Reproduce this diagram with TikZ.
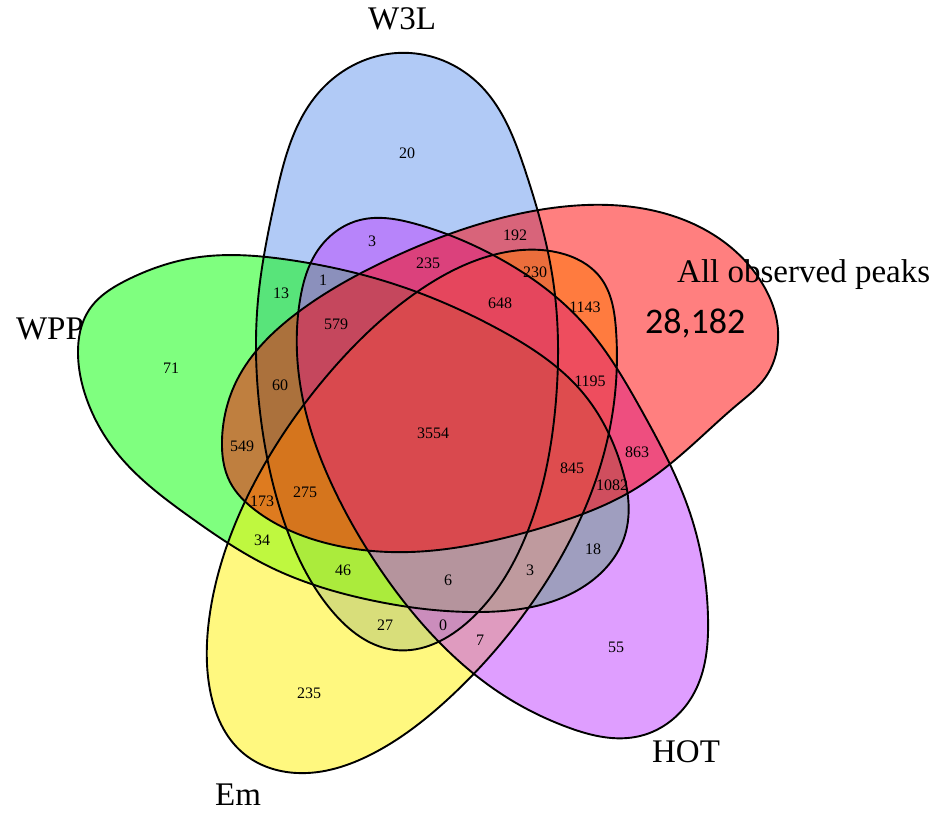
\documentclass[tikz,border=0pt]{standalone}
\usepackage{fontspec}
\setmainfont{Liberation Serif}
\newfontfamily\zahlfont{Carlito}
\usepackage{xcolor}
\usepackage{tikz}
\usetikzlibrary{hobby}
\definecolor{wblau}{RGB}{100,149,237}
\definecolor{hotlila}{RGB}{191,62,255}
\tikzset{
    menge/.style = {fill opacity=0.5, use Hobby shortcut, closed=true},
    rand/.style  = {draw=black, line width=1.9pt, use Hobby shortcut, closed=true},
    zahl/.style  = {inner sep=0pt, font=\fontsize{16}{19}\selectfont},
    titel/.style = {inner sep=0pt, font=\fontsize{33}{40}\selectfont}
}
\newcommand\umrissW{(410,53) .. (480,85) .. (525,170) .. (553,280) .. (556,400) .. (527,533) .. (470,620) .. (395,650) .. (332,611) .. (286,527) .. (261,420) .. (258,300) .. (275,200) .. (321,90)}
\newcommand\umrissP{(78,353) .. (89,310) .. (127,280) .. (193,258) .. (290,260) .. (400,286) .. (500,330) .. (583,393) .. (621,465) .. (625,535) .. (583,587) .. (480,612) .. (370,600) .. (270,567) .. (190,517) .. (117,453) .. (87,400)}
\newcommand\umrissE{(560,253) .. (600,277) .. (616,330) .. (613,410) .. (583,513) .. (527,610) .. (447,700) .. (372,754) .. (297,773) .. (243,753) .. (210,690) .. (209,620) .. (230,537) .. (267,460) .. (331,371) .. (417,292) .. (493,255)}
\newcommand\umrissH{(300,300) .. (318,250) .. (360,220) .. (416,224) .. (493,255) .. (583,323) .. (643,413) .. (690,513) .. (708,617) .. (693,695) .. (640,736) .. (567,727) .. (503,695) .. (440,643) .. (380,569) .. (333,487) .. (303,400)}
\newcommand\umrissA{(222,440) .. (237,380) .. (297,313) .. (381,263) .. (470,227) .. (560,207) .. (640,208) .. (717,237) .. (762,283) .. (778,330) .. (765,378) .. (738,404) .. (690,447) .. (630,492) .. (560,522) .. (500,539) .. (410,552) .. (322,542) .. (255,510) .. (230,482)}

\begin{document}
\begin{tikzpicture}[x=1pt, y=-1pt]
    \useasboundingbox (0,0) rectangle (931,814);

    % --- Flaechen ---
    \fill[menge, wblau]   \umrissW;
    \fill[menge, green]   \umrissP;
    \fill[menge, yellow]  \umrissE;
    \fill[menge, hotlila] \umrissH;
    \fill[menge, red]     \umrissA;

    % --- Raender ---
    \draw[rand] \umrissW;
    \draw[rand] \umrissP;
    \draw[rand] \umrissE;
    \draw[rand] \umrissH;
    \draw[rand] \umrissA;

    % --- Mengennamen ---
    \node[titel] (tw) at (402,19) {W3L};
    \node[titel] (tp) at (50,329) {WPP};
    \node[titel] (th) at (686,752) {HOT};
    \node[titel] (te) at (238,795) {Em};
    \node[titel, anchor=base west] (ta) at (677,282) {All observed peaks};
    \node[inner sep=0pt, anchor=base west, font=\zahlfont\fontsize{36}{43}\selectfont] (tz) at (645,333) {28,182};

    % --- Anzahlen ---
    \node[zahl] (n1)  at (407,153) {20};
    \node[zahl] (n2)  at (372,241) {3};
    \node[zahl] (n3)  at (515,235) {192};
    \node[zahl] (n4)  at (428,263) {235};
    \node[zahl] (n5)  at (535,272) {230};
    \node[zahl] (n6)  at (500,303) {648};
    \node[zahl] (n7)  at (585,307) {1143};
    \node[zahl] (n8)  at (281,293) {13};
    \node[zahl] (n9)  at (323,280) {1};
    \node[zahl] (n10) at (336,324) {579};
    \node[zahl] (n11) at (171,368) {71};
    \node[zahl] (n12) at (280,385) {60};
    \node[zahl] (n13) at (590,381) {1195};
    \node[zahl] (n14) at (242,446) {549};
    \node[zahl] (n15) at (433,433) {3554};
    \node[zahl] (n16) at (637,452) {863};
    \node[zahl] (n17) at (572,468) {845};
    \node[zahl] (n18) at (612,485) {1082};
    \node[zahl] (n19) at (262,501) {173};
    \node[zahl] (n20) at (305,492) {275};
    \node[zahl] (n21) at (262,540) {34};
    \node[zahl] (n22) at (343,570) {46};
    \node[zahl] (n23) at (448,580) {6};
    \node[zahl] (n24) at (530,570) {3};
    \node[zahl] (n25) at (593,549) {18};
    \node[zahl] (n26) at (385,625) {27};
    \node[zahl] (n27) at (443,625) {0};
    \node[zahl] (n28) at (480,640) {7};
    \node[zahl] (n29) at (309,693) {235};
    \node[zahl] (n30) at (616,647) {55};
\end{tikzpicture}
\end{document}
